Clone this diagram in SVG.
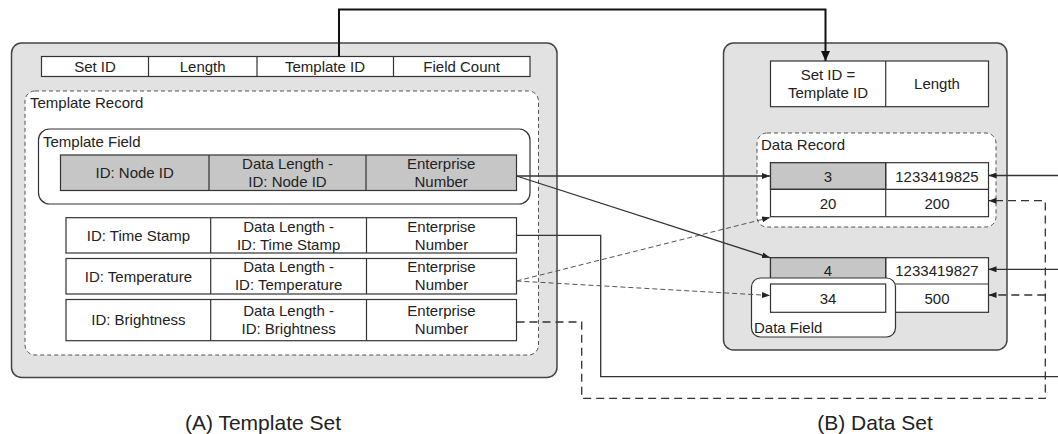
<svg xmlns="http://www.w3.org/2000/svg" width="1058" height="434" viewBox="0 0 1058 434">
<style>
text{font-family:"Liberation Sans",Arial,sans-serif;font-size:15px;fill:#222}
.c{text-anchor:middle}
.cap{font-size:21px;text-anchor:middle}
.set{fill:#e2e2e2;stroke:#444;stroke-width:1.5}
.cell{fill:#fff;stroke:#333;stroke-width:1.2}
.gray{fill:#c6c6c6;stroke:#333;stroke-width:1.2}
.div{stroke:#333;stroke-width:1.2}
.rec{fill:#fff;stroke:#555;stroke-width:1;stroke-dasharray:4 3}
.fld{fill:#fff;stroke:#333;stroke-width:1.2}
.ln{fill:none;stroke:#333;stroke-width:1.3}
.dl{fill:none;stroke:#555;stroke-width:1;stroke-dasharray:5 3}
.dd{fill:none;stroke:#333;stroke-width:1.3;stroke-dasharray:8 5}
</style>
<defs>
<marker id="a" markerUnits="userSpaceOnUse" markerWidth="9" markerHeight="7" refX="8" refY="3" orient="auto"><path d="M0,0 L8,3 L0,6 z" fill="#222"/></marker>
<marker id="big" markerUnits="userSpaceOnUse" markerWidth="11" markerHeight="10" refX="10" refY="4.5" orient="auto"><path d="M0,0 L10,4.5 L0,9 z" fill="#111"/></marker>
</defs>

<g id="template-set">
<rect class="set" x="11.5" y="43" width="545.5" height="334.5" rx="10"/>
<g id="template-header">
<rect class="cell" x="41.5" y="56.5" width="488.5" height="20"/>
<path class="div" d="M148.5,56.5V76.5M257,56.5V76.5M393.5,56.5V76.5"/>
<text class="c" x="95" y="72">Set ID</text>
<text class="c" x="202.7" y="72">Length</text>
<text class="c" x="325" y="72">Template ID</text>
<text class="c" x="461.7" y="72">Field Count</text>
</g>
<g id="template-record">
<rect class="rec" x="25" y="91" width="513.5" height="264" rx="10"/>
<text x="30" y="108">Template Record</text>
</g>
<g id="template-field">
<rect class="fld" x="38.5" y="129" width="491.5" height="75" rx="11"/>
<text x="43" y="147">Template Field</text>
<rect class="gray" x="60.5" y="155" width="456" height="35.5"/>
<path class="div" d="M209,155V190.5M366,155V190.5"/>
<text class="c" x="134.7" y="178.3">ID: Node ID</text>
<text class="c" x="287.5" y="169">Data Length -</text>
<text class="c" x="287.5" y="187">ID: Node ID</text>
<text class="c" x="441.2" y="169">Enterprise</text>
<text class="c" x="441.2" y="187">Number</text>
</g>
<g id="field-timestamp">
<rect class="cell" x="66" y="217.7" width="450.5" height="35.3"/>
<path class="div" d="M210.7,217.7V253M366.5,217.7V253"/>
<text class="c" x="138.4" y="240.7">ID: Time Stamp</text>
<text class="c" x="288.6" y="231.5">Data Length -</text>
<text class="c" x="288.6" y="249.5">ID: Time Stamp</text>
<text class="c" x="441.5" y="231.5">Enterprise</text>
<text class="c" x="441.5" y="249.5">Number</text>
</g>
<g id="field-temperature">
<rect class="cell" x="66" y="258.5" width="450.5" height="35.5"/>
<path class="div" d="M210.7,258.5V294M366.5,258.5V294"/>
<text class="c" x="138.4" y="281.5">ID: Temperature</text>
<text class="c" x="288.6" y="272.3">Data Length -</text>
<text class="c" x="288.6" y="290.3">ID: Temperature</text>
<text class="c" x="441.5" y="272.3">Enterprise</text>
<text class="c" x="441.5" y="290.3">Number</text>
</g>
<g id="field-brightness">
<rect class="cell" x="66" y="299.5" width="450.5" height="41.2"/>
<path class="div" d="M210.7,299.5V340.7M366.5,299.5V340.7"/>
<text class="c" x="138.4" y="325.4">ID: Brightness</text>
<text class="c" x="288.6" y="316">Data Length -</text>
<text class="c" x="288.6" y="334">ID: Brightness</text>
<text class="c" x="441.5" y="316">Enterprise</text>
<text class="c" x="441.5" y="334">Number</text>
</g>
</g>

<g id="data-set">
<rect class="set" x="723.5" y="43" width="283.5" height="307" rx="10"/>
<g id="data-header">
<rect class="cell" x="770.5" y="61" width="218" height="45.7"/>
<path class="div" d="M885.7,61V106.7"/>
<text class="c" x="828" y="80">Set ID =</text>
<text class="c" x="828" y="98">Template ID</text>
<text class="c" x="937" y="89">Length</text>
</g>
<g id="data-record">
<rect class="rec" x="757" y="133" width="239" height="94" rx="10"/>
<text x="761" y="150">Data Record</text>
<rect class="cell" x="770.5" y="162.7" width="218" height="54"/>
<rect class="gray" x="770.5" y="162.7" width="115.2" height="26.6"/>
<path class="div" d="M770.5,189.3H988.5M885.7,162.7V216.7"/>
<text class="c" x="828" y="181.5">3</text>
<text class="c" x="937" y="181.5">1233419825</text>
<text class="c" x="828" y="208.5">20</text>
<text class="c" x="937" y="208.5">200</text>
</g>
<g id="data-record-2">
<rect class="cell" x="770.5" y="257.7" width="218" height="54.6"/>
<rect class="gray" x="770.5" y="257.7" width="115.2" height="26.3"/>
<path class="div" d="M770.5,284H988.5M885.7,257.7V312.3"/>
<text class="c" x="828" y="276">4</text>
<text class="c" x="937" y="276">1233419827</text>
<text class="c" x="937" y="303.5">500</text>
</g>
<g id="data-field">
<rect class="fld" x="751.5" y="278" width="144" height="59" rx="9"/>
<rect class="cell" x="770.5" y="284" width="115.2" height="28.3"/>
<text class="c" x="828" y="303.5">34</text>
<text x="754" y="333">Data Field</text>
</g>
</g>

<g id="connectors">
<path d="M339,56.5V9.5H825.5V61" fill="none" stroke="#111" stroke-width="2" marker-end="url(#big)"/>
<path class="ln" d="M516.5,176H770" marker-end="url(#a)"/>
<path class="ln" d="M516.5,176L770,257.7" marker-end="url(#a)"/>
<path class="ln" d="M516.5,235.3H600.7V376.7H1058"/>
<path class="dl" d="M516.5,281L770,217.5" marker-end="url(#a)"/>
<path class="dl" d="M516.5,281L770,295.5" marker-end="url(#a)"/>
<path class="dd" d="M516.5,322H581.7V398.3H1045.3V200.7H988.5" marker-end="url(#a)"/>
<path class="dd" d="M1045.3,295H988.5" marker-end="url(#a)"/>
<path class="ln" d="M1058,175.5H988.5" marker-end="url(#a)"/>
<path class="ln" d="M1058,269.3H988.5" marker-end="url(#a)"/>
</g>

<text class="cap" x="263" y="430">(A) Template Set</text>
<text class="cap" x="875" y="430">(B) Data Set</text>
</svg>
